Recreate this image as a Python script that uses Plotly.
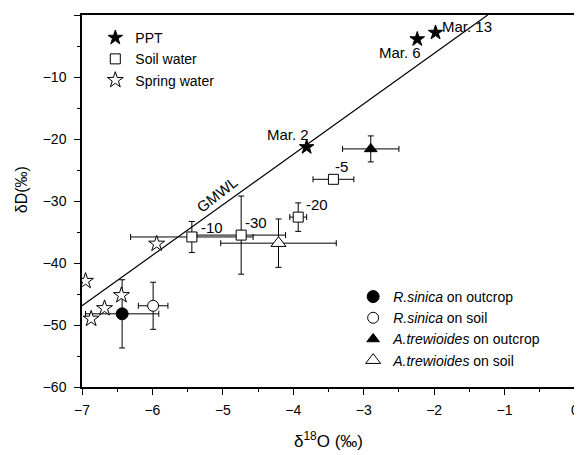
import plotly.graph_objects as go

# ---------------- data ----------------
ppt_x = [-1.98, -2.24, -3.81]
ppt_y = [-2.85, -3.9, -21.3]
ppt_labels = ["Mar. 13", "Mar. 6", "Mar. 2"]

soil_x = [-3.43, -3.93, -5.44, -4.74]
soil_y = [-26.5, -32.6, -35.8, -35.5]
soil_xerr = [0.29, 0.12, 0.87, 0.63]
soil_yerr = [0.0, 2.3, 2.5, 6.3]
soil_labels = ["-5", "-20", "-10", "-30"]

spring_x = [-6.95, -5.94, -6.44, -6.68, -6.87]
spring_y = [-42.9, -36.9, -45.2, -47.3, -49.0]

rs_out_x, rs_out_y, rs_out_xerr, rs_out_yerr = [-6.43], [-48.2], [0.52], [5.5]
rs_soil_x, rs_soil_y, rs_soil_xerr, rs_soil_yerr = [-5.99], [-46.9], [0.21], [3.8]
at_out_x, at_out_y, at_out_xerr, at_out_yerr = [-2.90], [-21.6], [0.40], [2.1]
at_soil_x, at_soil_y, at_soil_xerr, at_soil_yerr = [-4.21], [-36.8], [0.82], [3.9]

gmwl_x = [-7.0, -1.24]
gmwl_y = [-46.9, 0.0]

x_ticks = [-7, -6, -5, -4, -3, -2, -1, 0]
y_ticks = [0, -10, -20, -30, -40, -50, -60]

FONT = "Liberation Sans, Arial, sans-serif"
BLACK = "black"

fig = go.Figure()

# GMWL line
fig.add_trace(go.Scatter(x=gmwl_x, y=gmwl_y, mode="lines",
                         line=dict(color=BLACK, width=1.2), showlegend=False,
                         hoverinfo="skip"))

def err(vals):
    return dict(type="data", array=vals, visible=True, color=BLACK,
                thickness=1, width=3)

# Plant xylem water (legend 2)
fig.add_trace(go.Scatter(x=rs_out_x, y=rs_out_y, mode="markers",
                         name="<i>R.sinica</i> on outcrop",
                         error_x=err(rs_out_xerr), error_y=err(rs_out_yerr),
                         marker=dict(symbol="circle", size=12, color=BLACK,
                                     line=dict(color=BLACK, width=1)),
                         legend="legend2"))
fig.add_trace(go.Scatter(x=rs_soil_x, y=rs_soil_y, mode="markers",
                         name="<i>R.sinica</i> on soil",
                         error_x=err(rs_soil_xerr), error_y=err(rs_soil_yerr),
                         marker=dict(symbol="circle", size=11, color="white",
                                     line=dict(color=BLACK, width=1)),
                         legend="legend2"))
fig.add_trace(go.Scatter(x=at_out_x, y=at_out_y, mode="markers",
                         name="<i>A.trewioides</i> on outcrop",
                         error_x=err(at_out_xerr), error_y=err(at_out_yerr),
                         marker=dict(symbol="triangle-up", size=11, color=BLACK,
                                     line=dict(color=BLACK, width=1)),
                         legend="legend2"))
fig.add_trace(go.Scatter(x=at_soil_x, y=at_soil_y, mode="markers",
                         name="<i>A.trewioides</i> on soil",
                         error_x=err(at_soil_xerr), error_y=err(at_soil_yerr),
                         marker=dict(symbol="triangle-up", size=13, color="white",
                                     line=dict(color=BLACK, width=1)),
                         legend="legend2"))

# Legend 1 traces
fig.add_trace(go.Scatter(x=ppt_x, y=ppt_y, mode="markers", name="PPT",
                         marker=dict(symbol="star", size=11, color=BLACK,
                                     line=dict(color=BLACK, width=1)),
                         legend="legend"))
fig.add_trace(go.Scatter(x=soil_x, y=soil_y, mode="markers", name="Soil water",
                         error_x=err(soil_xerr), error_y=err(soil_yerr),
                         marker=dict(symbol="square", size=10, color="white",
                                     line=dict(color=BLACK, width=1)),
                         legend="legend"))
fig.add_trace(go.Scatter(x=spring_x, y=spring_y, mode="markers", name="Spring water",
                         marker=dict(symbol="star", size=12, color="white",
                                     line=dict(color=BLACK, width=1)),
                         legend="legend"))

# ---------------- annotations ----------------
ann = []
label_pos = {
    "Mar. 13": (-1.53, -1.9), "Mar. 6": (-2.48, -6.1), "Mar. 2": (-4.07, -19.2),
    "-5": (-3.31, -24.5), "-20": (-3.67, -30.5), "-30": (-4.53, -33.5),
    "-10": (-5.15, -34.2),
}
for t, (ax, ay) in label_pos.items():
    ann.append(dict(x=ax, y=ay, xref="x", yref="y", text=t, showarrow=False,
                    font=dict(family=FONT, size=15, color=BLACK)))
ann.append(dict(x=-5.08, y=-29.0, xref="x", yref="y", text="GMWL", showarrow=False,
                textangle=-38, font=dict(family=FONT, size=15, color=BLACK)))
ann.append(dict(x=0.5, y=-0.178, xref="paper", yref="paper",
                text="δ<sup>18</sup>O (‰)", showarrow=False,
                font=dict(family=FONT, size=17, color=BLACK)))
ann.append(dict(x=-0.145, y=0.529, xref="paper", yref="paper",
                text="δD(‰)", showarrow=False, textangle=-90,
                font=dict(family=FONT, size=16, color=BLACK)))

# The page body adds an 8px offset, so the figure is sized to fit the window.
fig.update_layout(
    width=574, height=447,
    margin=dict(l=73.7, r=3, t=7, b=68.3),
    paper_bgcolor="white", plot_bgcolor="white",
    font=dict(family=FONT, size=13, color=BLACK),
    annotations=ann,
    legend=dict(x=0.027, y=0.981, xanchor="left", yanchor="top",
                bgcolor="rgba(0,0,0,0)", font=dict(family=FONT, size=14),
                tracegroupgap=0),
    legend2=dict(x=0.55, y=0.285, xanchor="left", yanchor="top",
                 bgcolor="rgba(0,0,0,0)", font=dict(family=FONT, size=14),
                 tracegroupgap=0),
    xaxis=dict(range=[-7, 0], tickvals=x_ticks, ticks="outside", ticklen=6,
               tickwidth=1, tickcolor=BLACK, showline=True, linecolor=BLACK,
               linewidth=1.5, mirror=True, showgrid=False, zeroline=False,
               ticklabelstandoff=3,
               minor=dict(ticks="outside", ticklen=3, dtick=0.5, tickcolor=BLACK,
                          showgrid=False),
               tickfont=dict(family=FONT, size=14)),
    yaxis=dict(range=[-60, 0], tickvals=y_ticks, ticks="outside", ticklen=6,
               tickwidth=1, tickcolor=BLACK, showline=True, linecolor=BLACK,
               linewidth=1.5, mirror=True, showgrid=False, zeroline=False,
               ticklabelstandoff=5,
               minor=dict(ticks="outside", ticklen=3, dtick=5, tickcolor=BLACK,
                          showgrid=False),
               tickfont=dict(family=FONT, size=14)),
)

fig.write_html("out.html")
